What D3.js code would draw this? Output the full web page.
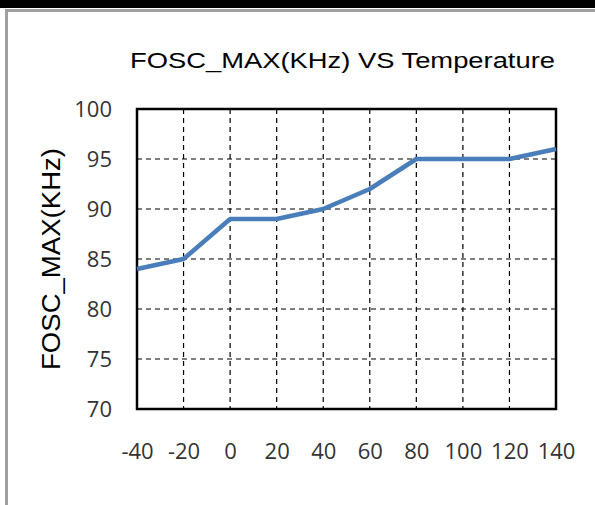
<!DOCTYPE html>
<html><head><meta charset="utf-8">
<script src="https://cdn.jsdelivr.net/npm/d3@7"></script>
<style>html,body{margin:0;padding:0;background:#fff;}svg{display:block;}</style>
</head><body>
<script>
const temps = [-40, -20, 0, 20, 40, 60, 80, 100, 120, 140];
const foscMax = [84, 85, 89, 89, 90, 92, 95, 95, 95, 96];
const xTicks = [-40, -20, 0, 20, 40, 60, 80, 100, 120, 140];
const yTicks = [70, 75, 80, 85, 90, 95, 100];
const title = "FOSC_MAX(KHz) VS Temperature";
const yTitle = "FOSC_MAX(KHz)";

const W = 595, H = 505;
const svg = d3.select("body").append("svg").attr("width", W).attr("height", H);

// frame decorations
svg.append("rect").attr("x",0).attr("y",0).attr("width",W).attr("height",8).attr("fill","#000");
svg.append("rect").attr("x",5).attr("y",9).attr("width",W-5).attr("height",3).attr("fill","#a0a0a0");
svg.append("rect").attr("x",5).attr("y",9).attr("width",3).attr("height",H-9).attr("fill","#a0a0a0");

const L = 137, R = 556, T = 109, B = 409;
const x = d3.scaleLinear().domain([-40, 140]).range([L, R]);
const y = d3.scaleLinear().domain([70, 100]).range([B, T]);

// grid
svg.append("g").selectAll("line").data(xTicks.filter(d => d > -40 && d < 140)).join("line")
  .attr("x1", d => x(d)).attr("x2", d => x(d)).attr("y1", T).attr("y2", B)
  .attr("stroke", "#000").attr("stroke-width", 1.2).attr("stroke-dasharray", "5,4");
svg.append("g").selectAll("line").data(yTicks.filter(d => d > 70 && d < 100)).join("line")
  .attr("x1", L).attr("x2", R).attr("y1", d => y(d)).attr("y2", d => y(d))
  .attr("stroke", "#000").attr("stroke-width", 1.2).attr("stroke-dasharray", "5,4");

// frame
svg.append("rect").attr("x", L).attr("y", T).attr("width", R - L).attr("height", B - T)
  .attr("fill", "none").attr("stroke", "#000").attr("stroke-width", 2.5);

const tickFont = "'Open Sans', Lato, sans-serif";
const xAxis = svg.append("g").attr("transform", `translate(0,${B})`)
  .call(d3.axisBottom(x).tickValues(xTicks).tickSize(0).tickPadding(34).tickFormat(d => String(d)));
xAxis.select(".domain").remove();
xAxis.selectAll("text").attr("font-family", tickFont).attr("font-size", 22).attr("fill", "#333");

const yAxis = svg.append("g").attr("transform", `translate(${L},0)`)
  .call(d3.axisLeft(y).tickValues(yTicks).tickSize(0).tickPadding(25).tickFormat(d => String(d)));
yAxis.select(".domain").remove();
yAxis.selectAll("text").attr("font-family", tickFont).attr("font-size", 22).attr("fill", "#333");

// line
const data = temps.map((t, i) => ({t, v: foscMax[i]}));
svg.append("path").datum(data)
  .attr("d", d3.line().x(d => x(d.t)).y(d => y(d.v)))
  .attr("fill", "none").attr("stroke", "#4a7ebb").attr("stroke-width", 4.5)
  .attr("stroke-linejoin", "round");

// titles
svg.append("text").attr("x", 342.5).attr("y", 68).attr("text-anchor", "middle")
  .attr("font-family", "'Liberation Sans', Arial, sans-serif").attr("font-size", 22)
  .attr("textLength", 425).attr("lengthAdjust", "spacingAndGlyphs")
  .attr("fill", "#000").text(title);

svg.append("text").attr("transform", "translate(60,259) rotate(-90)").attr("text-anchor", "middle")
  .attr("font-family", "'Liberation Sans', Arial, sans-serif").attr("font-size", 26)
  .attr("textLength", 222).attr("lengthAdjust", "spacingAndGlyphs")
  .attr("fill", "#000").text(yTitle);
</script>
</body></html>
